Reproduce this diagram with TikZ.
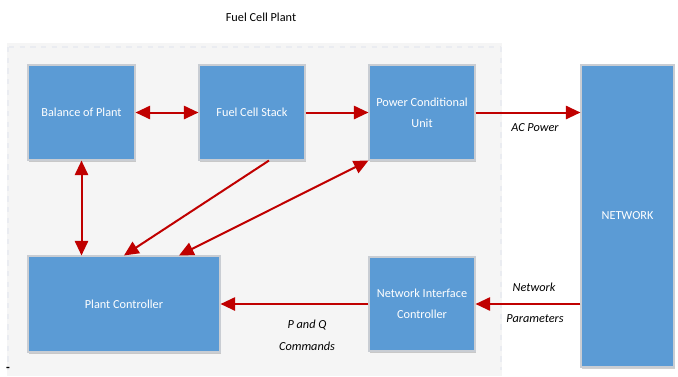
\documentclass[tikz,border=0pt]{standalone}
\usepackage{fontspec}
\setmainfont{Carlito}
\usetikzlibrary{arrows.meta,calc,shadows}
\definecolor{boxblue}{HTML}{5B9BD5}
\definecolor{boxedge}{HTML}{C9CDD3}
\definecolor{linkred}{HTML}{C00000}
\definecolor{panelgray}{HTML}{F5F5F5}
\definecolor{paneledge}{HTML}{EAECF1}
\begin{document}
\begin{tikzpicture}[x=0.75pt,y=-0.75pt,
  block/.style={draw=boxedge,line width=0.8pt,fill=boxblue,text=white,
    inner sep=0pt,align=center,font=\fontsize{9.2}{11}\selectfont,
    drop shadow={shadow xshift=0.8pt,shadow yshift=-1.6pt,opacity=0.18,fill=black}},
  link/.style={draw=linkred,line width=1.5pt,
    -{Triangle[length=11pt,width=10pt]}},
  biglink/.style={link,{Triangle[length=11pt,width=10pt]}-{Triangle[length=11pt,width=10pt]}},
  caption/.style={font=\itshape\fontsize{9.2}{11}\selectfont,text=black,inner sep=0pt}]
\useasboundingbox (0,0) rectangle (678,376);
\fill[white] (0,0) rectangle (678,376);

% plant enclosure
\fill[panelgray] (7,43) rectangle (502,376);
\draw[paneledge,line width=1.2pt,dash pattern=on 4pt off 4pt] (9,47) -- (500,47);
\draw[paneledge,line width=0.8pt,dash pattern=on 4pt off 4pt] (8,47) -- (8,370);
\draw[paneledge,line width=0.8pt,dash pattern=on 4pt off 4pt] (501,47) -- (501,370);
\node[font=\fontsize{9.2}{11}\selectfont,inner sep=0pt] (title) at (261,17) {Fuel Cell Plant};
\node[font=\bfseries\fontsize{9.2}{11}\selectfont,inner sep=0pt] (tick) at (8,369) {-};

% blocks
\node[block,minimum width=80.25pt,minimum height=71.25pt] (bop) at (81.5,112.5) {Balance of Plant};
\node[block,minimum width=79.5pt,minimum height=71.25pt] (fcs) at (252,112.5) {Fuel Cell Stack};
\node[block,minimum width=79.5pt,minimum height=71.25pt] (pcu) at (422,112.5) {Power Conditional\\[4.5pt]Unit};
\node[block,minimum width=69.75pt,minimum height=226.5pt] (net) at (627.5,216) {NETWORK};
\node[block,minimum width=144pt,minimum height=72pt] (pc) at (124,304) {Plant Controller};
\node[block,minimum width=79.5pt,minimum height=70.5pt] (nic) at (422,304) {Network Interface\\[4.5pt]Controller};

% connectors
\draw[biglink] (bop.east) -- (fcs.west);
\draw[link] (fcs.east) -- (pcu.west);
\draw[link] (pcu.east) -- (pcu.east -| net.west);
\draw[biglink] (bop.south) -- (bop.south |- pc.north);
\draw[link] ($(fcs.south)+(17,0)$) -- (pc.north);
\draw[biglink] ($(pc.north)+(55,0)$) -- (pcu.south west);
\draw[link] (nic.east -| net.west) -- (nic.east);
\draw[link] (nic.west) -- (pc.east);

% connector captions
\node[caption] (acp) at (535,128) {AC Power};
\node[caption] (pq1) at (307,325) {P and Q};
\node[caption] (pq2) at (307,346) {Commands};
\node[caption] (np1) at (534,287) {Network};
\node[caption] (np2) at (535,319) {Parameters};
\end{tikzpicture}
\end{document}
